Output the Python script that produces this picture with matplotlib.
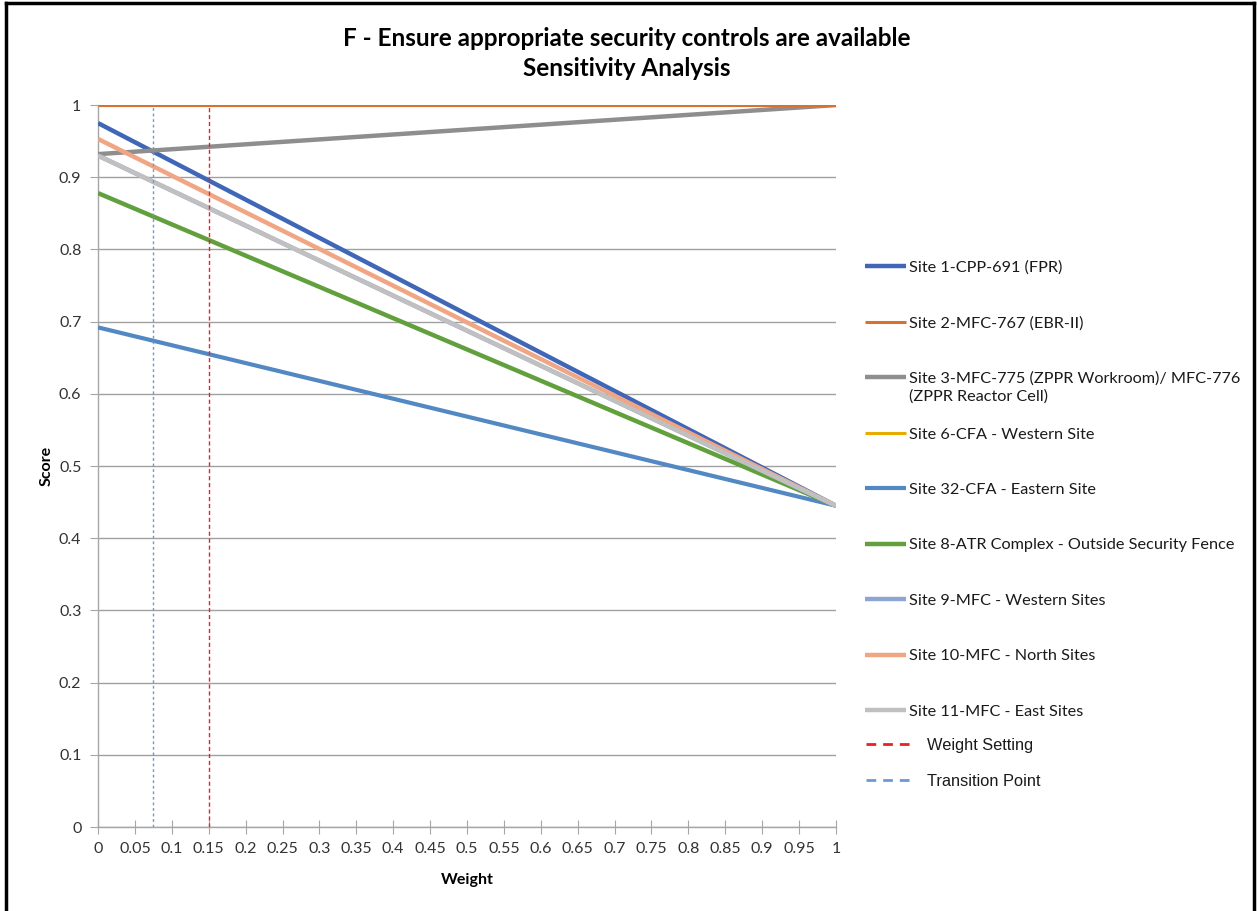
import matplotlib
matplotlib.use("Agg")
import matplotlib.pyplot as plt
from matplotlib.lines import Line2D
import numpy as np

plt.rcParams['font.family'] = ['Lato', 'DejaVu Sans']

# ---- data ----
weights = [0.0, 1.0]
series_names = [
    "Site 1-CPP-691 (FPR)",
    "Site 2-MFC-767 (EBR-II)",
    "Site 3-MFC-775 (ZPPR Workroom)/ MFC-776",
    "Site 6-CFA - Western Site",
    "Site 32-CFA - Eastern Site",
    "Site 8-ATR Complex - Outside Security Fence",
    "Site 9-MFC - Western Sites",
    "Site 10-MFC - North Sites",
    "Site 11-MFC - East Sites",
]
site3_label_cont = "(ZPPR Reactor Cell)"
site1 = [0.975, 0.445]
site2 = [1.000, 1.000]
site3 = [0.932, 1.000]
site6 = [1.000, 1.000]
site32 = [0.692, 0.445]
site8 = [0.878, 0.445]
site9 = [0.930, 0.445]
site10 = [0.953, 0.445]
site11 = [0.930, 0.445]
series_values = [site1, site2, site3, site6, site32, site8, site9, site10, site11]
weight_setting = 0.15
transition_point = 0.075
x_ticks = [round(0.05 * i, 2) for i in range(21)]
x_tick_labels = ["0", "0.05", "0.1", "0.15", "0.2", "0.25", "0.3", "0.35", "0.4", "0.45", "0.5",
                 "0.55", "0.6", "0.65", "0.7", "0.75", "0.8", "0.85", "0.9", "0.95", "1"]
y_ticks = [round(0.1 * i, 1) for i in range(11)]
y_tick_labels = ["0", "0.1", "0.2", "0.3", "0.4", "0.5", "0.6", "0.7", "0.8", "0.9", "1"]

colors = ['#4066B8', '#D9702D', '#8E8E8E', '#E6AC00', '#5289C2', '#62A03E',
          '#8EA4D2', '#F0A585', '#C0C0C0']
widths = [3.2, 2.2, 3.2, 2.2, 3.0, 3.2, 3.2, 3.2, 3.2]
zorders = [3, 3.6, 3, 3.5, 3, 3, 3, 3, 3]
text_color = '#1A1A1A'

fig = plt.figure(figsize=(12.57, 9.11), dpi=100)
ax = fig.add_axes([0.078, 0.0922, 0.587, 0.7925])

handles = []
for name, vals, c, lw, z in zip(series_names, series_values, colors, widths, zorders):
    h, = ax.plot(weights, vals, color=c, lw=lw, label=name, solid_capstyle='butt', zorder=z)
    handles.append(h)

h_ws = ax.axvline(weight_setting, ymin=0, ymax=1, color='#E8202A', lw=1.0,
                  linestyle=(0, (3, 2)), zorder=4, label='Weight Setting')
h_tp = ax.axvline(transition_point, ymin=0, ymax=1, color='#6A9AD0', lw=1.0,
                  linestyle=(0, (2, 2)), zorder=4, label='Transition Point')

ax.set_xlim(0, 1)
ax.set_ylim(0, 1)
ax.set_xticks(x_ticks)
ax.set_xticklabels(x_tick_labels, fontsize=11.5, color='#333333')
ax.set_yticks(y_ticks)
ax.set_yticklabels(y_tick_labels, fontsize=11.5, color='#333333')
ax.yaxis.grid(True, color='#A0A0A0', lw=1.0)
ax.set_axisbelow(True)
for s in ['top', 'right']:
    ax.spines[s].set_visible(False)
for s in ['left', 'bottom']:
    ax.spines[s].set_color('#A6A6A6')
    ax.spines[s].set_linewidth(1.0)
ax.tick_params(axis='x', direction='inout', length=10, color='#A6A6A6', pad=6)
ax.tick_params(axis='y', direction='out', length=6, color='#A6A6A6', pad=6)
ax.set_xlabel('Weight', fontsize=11.5, fontweight='bold', labelpad=12)
ax.set_ylabel('Score', fontsize=11.5, fontweight='bold', labelpad=4)

fig.text(0.499, 0.958, 'F - Ensure appropriate security controls are available',
         ha='center', va='center', fontsize=17.5, fontweight='bold')
fig.text(0.499, 0.925, 'Sensitivity Analysis',
         ha='center', va='center', fontsize=17.5, fontweight='bold')

leg1 = fig.legend(handles=handles, loc='upper left', bbox_to_anchor=(0.683, 0.721),
                  frameon=False, fontsize=11.7, handlelength=2.5, handletextpad=0.2,
                  labelspacing=2.53, borderaxespad=0, labelcolor=text_color)
leg2 = fig.legend(handles=[h_ws, h_tp], loc='upper left', bbox_to_anchor=(0.684, 0.197),
                  frameon=False, handlelength=3.0, handletextpad=0.7,
                  labelspacing=1.28, borderaxespad=0, labelcolor=text_color,
                  prop={'family': ['Liberation Sans', 'DejaVu Sans'], 'size': 11.8})
for lh in leg2.get_lines():
    lh.set_linewidth(2.0)
    lh.set_linestyle((0, (3.5, 2.5)))

# continuation line of the wrapped Site 3 legend label
fig.canvas.draw()
t3 = leg1.get_texts()[2]
bb = t3.get_window_extent().transformed(fig.transFigure.inverted())
fig.text(bb.x0, bb.y0 - 18.0 / fig.bbox.height, site3_label_cont,
         ha='left', va='bottom', fontsize=11.7, color=text_color)

# outer frame (left, top, right)
fig.add_artist(Line2D([0.0045, 0.0045], [0.0, 0.9965], transform=fig.transFigure, color='black', lw=2.5))
fig.add_artist(Line2D([0.0045, 0.9975], [0.9965, 0.9965], transform=fig.transFigure, color='black', lw=2.5))
fig.add_artist(Line2D([0.9975, 0.9975], [0.0, 0.9965], transform=fig.transFigure, color='black', lw=2.5))

fig.savefig('out.png', dpi=100)
